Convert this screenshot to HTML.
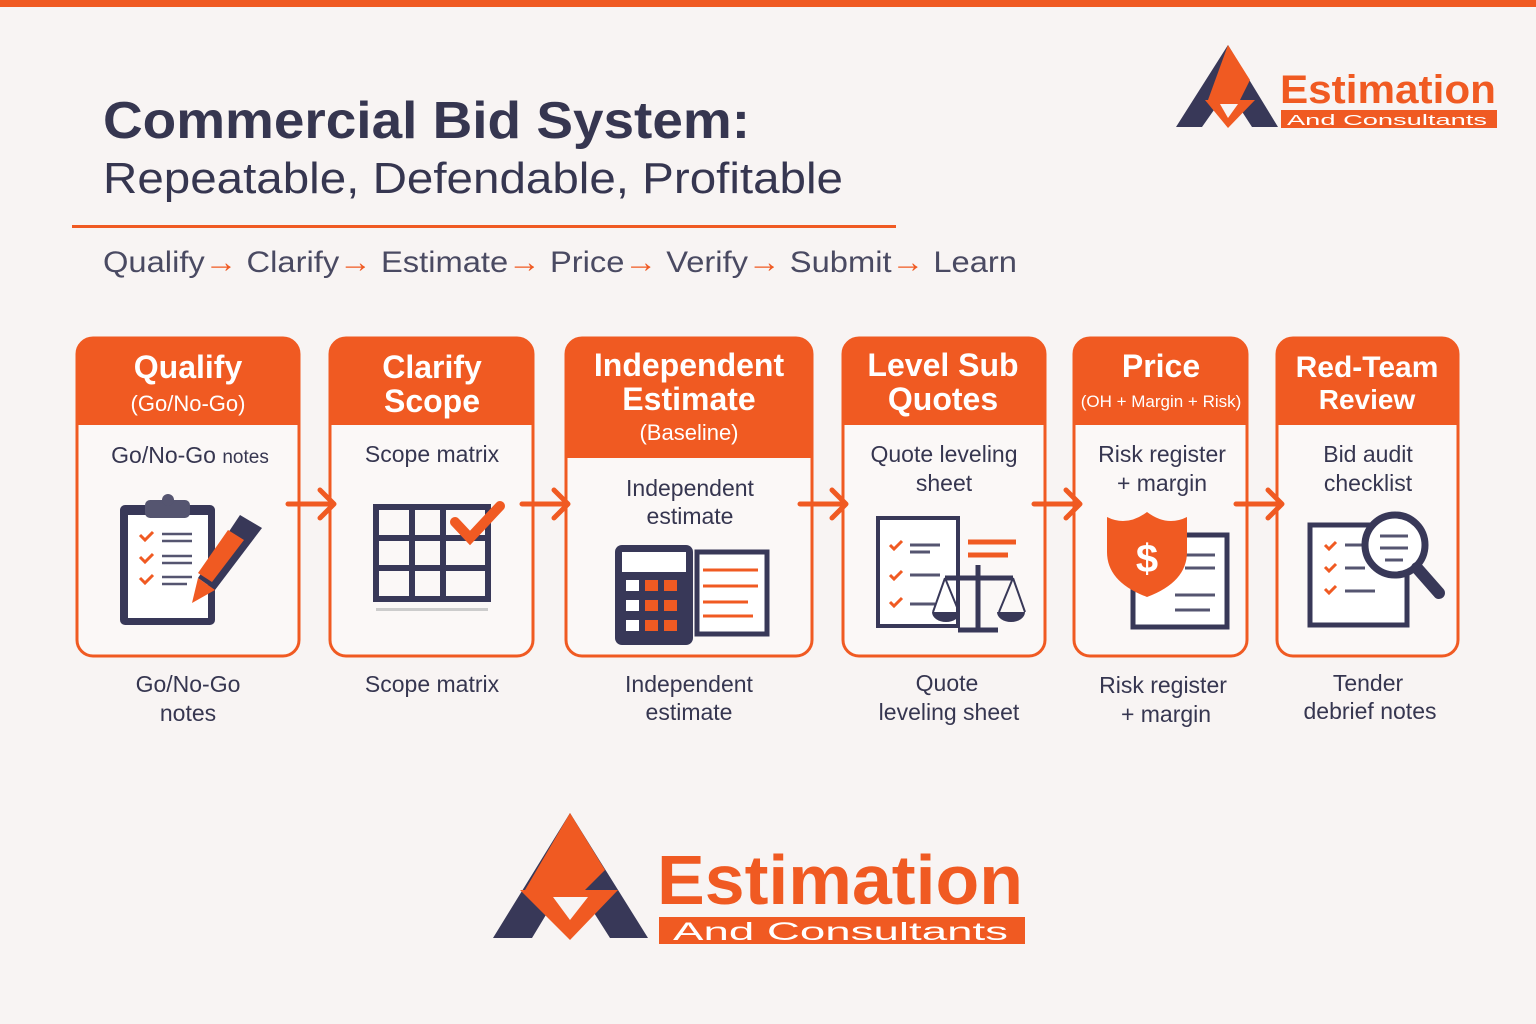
<!DOCTYPE html>
<html><head><meta charset="utf-8"><style>
html,body{margin:0;padding:0;background:#f8f4f3;}
svg{display:block}
text{font-family:"Liberation Sans",sans-serif;}
</style></head><body>
<svg width="1536" height="1024" viewBox="0 0 1536 1024" xmlns="http://www.w3.org/2000/svg">
<rect width="1536" height="1024" fill="#f8f4f3"/>
<rect width="1536" height="7" fill="#f05a22"/>

<text x="103" y="138" font-size="52" font-weight="bold" fill="#363650" textLength="647" lengthAdjust="spacingAndGlyphs">Commercial Bid System:</text>
<text x="103" y="193" font-size="44" fill="#363650" textLength="740" lengthAdjust="spacingAndGlyphs">Repeatable, Defendable, Profitable</text>
<rect x="72" y="225" width="824" height="3" fill="#f05a22"/>
<text x="103" y="272" font-size="30" fill="#4a4a62" textLength="914" lengthAdjust="spacingAndGlyphs">Qualify<tspan fill="#f05a22">→</tspan> Clarify<tspan fill="#f05a22">→</tspan> Estimate<tspan fill="#f05a22">→</tspan> Price<tspan fill="#f05a22">→</tspan> Verify<tspan fill="#f05a22">→</tspan> Submit<tspan fill="#f05a22">→</tspan> Learn</text>

<g>
<polygon points="1176,127 1228,45 1278,127 1252,127 1228,90 1202,127" fill="#383858"/>
<polygon points="1208,100 1228,45 1250,80 1240,100" fill="#f05a22"/>
<polygon points="1205,100 1255,100 1228,128" fill="#f05a22"/>
<polygon points="1220,104 1238,104 1228,118" fill="#f8f4f3"/>
<text x="1280" y="103" font-size="40" font-weight="bold" fill="#f05a22" textLength="216" lengthAdjust="spacingAndGlyphs">Estimation</text>
<rect x="1281" y="110" width="216" height="18" fill="#f05a22"/>
<text x="1287" y="125" font-size="15" fill="#fff" textLength="200" lengthAdjust="spacingAndGlyphs">And Consultants</text>
</g>

<g stroke="#f05a22" stroke-width="3">
<rect x="77" y="338" width="222" height="318" rx="16" fill="#fbf8f7"/>
<rect x="330" y="338" width="203" height="318" rx="16" fill="#fbf8f7"/>
<rect x="566" y="338" width="246" height="318" rx="16" fill="#fbf8f7"/>
<rect x="843" y="338" width="202" height="318" rx="16" fill="#fbf8f7"/>
<rect x="1074" y="338" width="173" height="318" rx="16" fill="#fbf8f7"/>
<rect x="1277" y="338" width="181" height="318" rx="16" fill="#fbf8f7"/>
</g>
<g fill="#f05a22">
<path d="M77,354 a16,16 0 0 1 16,-16 h190 a16,16 0 0 1 16,16 v71 h-222z"/>
<path d="M330,354 a16,16 0 0 1 16,-16 h171 a16,16 0 0 1 16,16 v71 h-203z"/>
<path d="M566,354 a16,16 0 0 1 16,-16 h214 a16,16 0 0 1 16,16 v104 h-246z"/>
<path d="M843,354 a16,16 0 0 1 16,-16 h170 a16,16 0 0 1 16,16 v71 h-202z"/>
<path d="M1074,354 a16,16 0 0 1 16,-16 h141 a16,16 0 0 1 16,16 v71 h-173z"/>
<path d="M1277,354 a16,16 0 0 1 16,-16 h149 a16,16 0 0 1 16,16 v71 h-181z"/>
</g>
<g fill="#fff" font-weight="bold" text-anchor="middle" font-size="32">
<text x="188" y="378">Qualify</text>
<text x="188" y="411" font-size="22" font-weight="normal">(Go/No-Go)</text>
<text x="432" y="378">Clarify</text>
<text x="432" y="412">Scope</text>
<text x="689" y="376">Independent</text>
<text x="689" y="410">Estimate</text>
<text x="689" y="440" font-size="22" font-weight="normal">(Baseline)</text>
<text x="943" y="376">Level Sub</text>
<text x="943" y="410">Quotes</text>
<text x="1161" y="377">Price</text>
<text x="1161" y="407" font-size="17" font-weight="normal">(OH + Margin + Risk)</text>
<text x="1367" y="377" font-size="30">Red-Team</text>
<text x="1367" y="409" font-size="28">Review</text>
</g>
<g fill="#363650" text-anchor="middle" font-size="23">
<text x="190" y="463">Go/No-Go <tspan font-size="19">notes</tspan></text>
<text x="432" y="462">Scope matrix</text>
<text x="690" y="496">Independent</text>
<text x="690" y="524">estimate</text>
<text x="944" y="462">Quote leveling</text>
<text x="944" y="491">sheet</text>
<text x="1162" y="462">Risk register</text>
<text x="1162" y="491">+ margin</text>
<text x="1368" y="462">Bid audit</text>
<text x="1368" y="491">checklist</text>
</g>
<g fill="#363650" text-anchor="middle" font-size="23">
<text x="188" y="692">Go/No-Go</text><text x="188" y="721">notes</text>
<text x="432" y="692">Scope matrix</text>
<text x="689" y="692">Independent</text><text x="689" y="720">estimate</text>
<text x="947" y="691">Quote</text><text x="949" y="720">leveling sheet</text>
<text x="1163" y="693">Risk register</text><text x="1166" y="722">+ margin</text>
<text x="1368" y="691">Tender</text><text x="1370" y="719">debrief notes</text>
</g>

<g stroke="#f05a22" stroke-width="5" fill="none" stroke-linecap="round" stroke-linejoin="round">
<path d="M288,504 h46 M320,490 l14,14 l-14,14"/>
<path d="M522,504 h46 M554,490 l14,14 l-14,14"/>
<path d="M800,504 h46 M832,490 l14,14 l-14,14"/>
<path d="M1034,504 h46 M1066,490 l14,14 l-14,14"/>
<path d="M1236,504 h46 M1268,490 l14,14 l-14,14"/>
</g>

<rect x="120" y="505" width="95" height="120" rx="5" fill="#383858"/>
<rect x="128" y="515" width="80" height="103" fill="#fff"/>
<rect x="145" y="500" width="45" height="18" rx="5" fill="#555570"/>
<circle cx="168" cy="500" r="6" fill="#555570"/>
<g stroke="#f05a22" stroke-width="3" fill="none"><path d="M140,535 l5,5 l8,-8 M140,557 l5,5 l8,-8 M140,578 l5,5 l8,-8"/></g>
<g stroke="#555570" stroke-width="2.5"><path d="M162,534 h30 M162,541 h30 M162,556 h30 M162,563 h30 M162,577 h30 M162,584 h25"/></g>
<polygon points="240,515 262,528 215,590 198,578" fill="#383858"/>
<polygon points="228,530 244,540 212,582 198,573" fill="#f05a22"/>
<polygon points="198,578 215,590 192,603" fill="#f05a22"/>
<rect x="376" y="507" width="112" height="92" fill="none" stroke="#383858" stroke-width="6"/>
<path d="M376,538 h112 M376,568 h112 M412,507 v92 M443,507 v92" stroke="#383858" stroke-width="6"/>
<path d="M455,522 l15,16 l30,-32" stroke="#f05a22" stroke-width="10" fill="none" stroke-linecap="round"/>
<rect x="376" y="608" width="112" height="3" fill="#ccc"/>
<rect x="615" y="545" width="78" height="100" rx="7" fill="#383858"/>
<rect x="622" y="552" width="64" height="20" fill="#fff"/>
<g fill="#f05a22"><rect x="645" y="580" width="13" height="11"/><rect x="664" y="580" width="13" height="11"/><rect x="645" y="600" width="13" height="11"/><rect x="664" y="600" width="13" height="11"/><rect x="645" y="620" width="13" height="11"/><rect x="664" y="620" width="13" height="11"/></g>
<g fill="#fff"><rect x="626" y="580" width="13" height="11"/><rect x="626" y="600" width="13" height="11"/><rect x="626" y="620" width="13" height="11"/></g>
<rect x="697" y="552" width="70" height="82" fill="#fff" stroke="#383858" stroke-width="5"/>
<g stroke="#f05a22" stroke-width="3"><path d="M703,570 h55 M703,586 h55 M703,602 h45 M703,616 h50"/></g>
<rect x="878" y="518" width="80" height="108" fill="#fff" stroke="#383858" stroke-width="4"/>
<g stroke="#f05a22" stroke-width="3" fill="none"><path d="M890,545 l4,4 l8,-8 M890,575 l4,4 l8,-8 M890,602 l4,4 l8,-8"/></g>
<g stroke="#555570" stroke-width="3"><path d="M910,545 h30 M910,552 h20 M910,575 h30 M910,604 h25"/></g>
<path d="M968,542 h48 M968,555 h40" stroke="#f05a22" stroke-width="5"/>
<path d="M978,565 v65 M945,578 h68 M958,630 h40" stroke="#383858" stroke-width="5"/>
<path d="M932,612 a14,10 0 0 0 28,0 z M997,612 a14,10 0 0 0 28,0 z" fill="#383858"/>
<path d="M945,578 l-12,34 M945,578 l14,34 M1013,578 l-14,34 M1013,578 l12,34" stroke="#383858" stroke-width="2"/>
<rect x="1133" y="535" width="94" height="92" fill="#fff" stroke="#383858" stroke-width="5"/>
<g stroke="#555570" stroke-width="3"><path d="M1185,555 h30 M1185,568 h30 M1175,595 h40 M1175,610 h35"/></g>
<path d="M1147,512 q20,15 40,5 v35 q0,30 -40,45 q-40,-15 -40,-45 v-35 q20,10 40,-5z" fill="#f05a22"/>
<text x="1147" y="572" font-size="40" font-weight="bold" fill="#fff" text-anchor="middle">$</text>
<rect x="1310" y="525" width="97" height="100" fill="#fff" stroke="#383858" stroke-width="5"/>
<g stroke="#f05a22" stroke-width="3" fill="none"><path d="M1325,545 l4,4 l7,-7 M1325,567 l4,4 l7,-7 M1325,589 l4,4 l7,-7"/></g>
<g stroke="#555570" stroke-width="3"><path d="M1345,545 h20 M1345,568 h20 M1345,591 h30"/></g>
<circle cx="1395" cy="545" r="30" fill="#fff" stroke="#383858" stroke-width="7"/>
<path d="M1380,536 h28 M1380,548 h28 M1385,560 h18" stroke="#555570" stroke-width="3"/>
<path d="M1417,568 l22,25" stroke="#383858" stroke-width="12" stroke-linecap="round"/>

<g>
<polygon points="493,938 570,813 648,938 610,938 570,875 532,938" fill="#383858"/>
<polygon points="525,890 570,813 605,870 585,890" fill="#f05a22"/>
<polygon points="520,890 618,890 570,940" fill="#f05a22"/>
<polygon points="553,897 588,897 570,920" fill="#f8f4f3"/>
<text x="657" y="904" font-size="70" font-weight="bold" fill="#f05a22" textLength="366" lengthAdjust="spacingAndGlyphs">Estimation</text>
<rect x="659" y="917" width="366" height="27" fill="#f05a22"/>
<text x="673" y="940" font-size="25" fill="#fff" textLength="335" lengthAdjust="spacingAndGlyphs">And Consultants</text>
</g>
</svg>
</body></html>
